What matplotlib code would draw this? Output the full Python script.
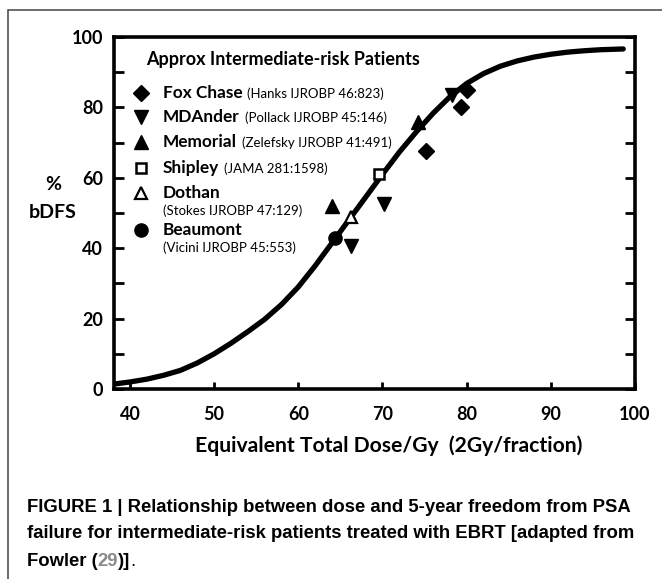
import matplotlib
matplotlib.use("Agg")
import matplotlib.pyplot as plt
from matplotlib.patches import Rectangle

plt.rcParams['font.family'] = ['Lato', 'DejaVu Sans']

# fitted dose-response curve
curve_dose = [38.1, 40, 42, 44, 46, 48, 50, 52, 54, 56, 58, 60, 62, 64, 66, 68, 70,
              72, 74, 76, 78, 80, 82, 84, 86, 88, 90, 92, 94, 96, 98.6]
curve_pct = [1.4, 2.0, 2.8, 3.9, 5.3, 7.4, 10.0, 13.0, 16.3, 19.8, 24.0, 29.0, 35.0,
             41.5, 48.0, 54.5, 61.0, 67.3, 73.0, 78.3, 83.0, 86.8, 89.6, 91.7, 93.2,
             94.3, 95.1, 95.7, 96.1, 96.4, 96.6]

# study results
fox_dose = [75.2, 79.3, 80.0]
fox_pct = [67.5, 80.0, 85.0]
mda_dose = [66.3, 70.2, 78.2]
mda_pct = [40.5, 52.5, 83.5]
mem_dose = [64.0, 74.2]
mem_pct = [52.0, 75.8]
shipley_dose = [69.6]
shipley_pct = [61.0]
dothan_dose = [66.2]
dothan_pct = [49.0]
beaumont_dose = [64.4]
beaumont_pct = [43.0]

legend_names = ["Fox Chase", "MDAnder", "Memorial", "Shipley", "Dothan", "Beaumont"]
legend_cites = ["(Hanks IJROBP 46:823)", "(Pollack IJROBP 45:146)",
                "(Zelefsky IJROBP 41:491)", "(JAMA 281:1598)",
                "(Stokes IJROBP 47:129)", "(Vicini IJROBP 45:553)"]

x_ticks = [40, 50, 60, 70, 80, 90, 100]
y_ticks = [0, 20, 40, 60, 80, 100]
y_minor = [10, 30, 50, 70, 90]

fig = plt.figure(figsize=(6.62, 5.79), dpi=100)
W, H = 662, 579

# thin frame round the figure panel
fig.patches.append(Rectangle((8 / W, -0.05), 1.0, 1 - 10 / H + 0.05, transform=fig.transFigure,
                             fill=False, edgecolor='#444444', linewidth=1.1))

ax = fig.add_axes([114 / W, 1 - 389 / H, (635 - 114) / W, (389 - 37) / H])
ax.set_xlim(38.1, 100)
ax.set_ylim(0, 100)

ax.plot(curve_dose, curve_pct, color='black', linewidth=3.8, solid_capstyle='round', zorder=2)

mk = dict(color='black', linestyle='none', zorder=3)
ax.plot(fox_dose, fox_pct, marker='D', markersize=8.5, **mk)
ax.plot(mda_dose, mda_pct, marker='v', markersize=9.5, **mk)
ax.plot(mem_dose, mem_pct, marker='^', markersize=9.5, **mk)
ax.plot(shipley_dose, shipley_pct, marker='s', markersize=7.5, markerfacecolor='white',
        markeredgewidth=1.8, **mk)
ax.plot(dothan_dose, dothan_pct, marker='^', markersize=9, markerfacecolor='white',
        markeredgewidth=1.6, **mk)
ax.plot(beaumont_dose, beaumont_pct, marker='o', markersize=9.5, **mk)

for sp in ax.spines.values():
    sp.set_linewidth(2.6)

ax.set_xticks(x_ticks)
ax.set_yticks(y_ticks)
ax.set_yticks(y_minor, minor=True)
ax.tick_params(axis='x', direction='in', length=5, width=2, pad=12, labelsize=13)
ax.tick_params(axis='y', which='both', direction='in', length=7, width=2, pad=8,
               labelsize=13, left=True, right=True)
for lab in ax.get_xticklabels() + ax.get_yticklabels():
    lab.set_fontweight('bold')

fig.text(53 / W, 1 - 185 / H, "%", ha='center', va='center', fontsize=14, fontweight='bold')
fig.text(53 / W, 1 - 212 / H, "bDFS", ha='center', va='center', fontsize=14, fontweight='bold')
fig.text(389 / W, 1 - 446 / H, "Equivalent Total Dose/Gy  (2Gy/fraction)", ha='center',
         va='center', fontsize=15.2, fontweight='bold')

# hand made legend in axes fraction
def fx(px):
    return (px - 114) / 521

def fy(py):
    return (389 - py) / 352

ax.text(fx(146), fy(60), "Approx Intermediate-risk Patients", transform=ax.transAxes,
        ha='left', va='center', fontsize=13, fontweight='bold')

leg_rows = [93, 117, 142, 168, 193, 230]
leg_markers = [dict(marker='D', markersize=8.5),
               dict(marker='v', markersize=9.5),
               dict(marker='^', markersize=9.5),
               dict(marker='s', markersize=7.5, markerfacecolor='white', markeredgewidth=1.8),
               dict(marker='^', markersize=9, markerfacecolor='white', markeredgewidth=1.6),
               dict(marker='o', markersize=9.5)]
for i, name in enumerate(legend_names):
    ax.plot([fx(141)], [fy(leg_rows[i])], color='black', transform=ax.transAxes,
            clip_on=False, **leg_markers[i])
    t = ax.text(fx(163), fy(leg_rows[i]), name, transform=ax.transAxes, ha='left',
                va='center', fontsize=12.4, fontweight='bold')
    if name in ("Dothan", "Beaumont"):
        # citation goes on its own line
        ax.text(fx(163), fy(leg_rows[i] + 18), legend_cites[i], transform=ax.transAxes,
                ha='left', va='center', fontsize=9.5)
    else:
        ax.annotate(legend_cites[i], xy=(1, 0), xycoords=t, xytext=(3.5, 0.5),
                    textcoords='offset points', ha='left', va='bottom', fontsize=9.5)

# caption
cap_font = ['Liberation Sans', 'DejaVu Sans']
cap_size = 13.3
fig.text(27 / W, 1 - 507 / H, "FIGURE 1 | Relationship between dose and 5-year freedom from PSA",
         ha='left', va='center', fontsize=cap_size, fontweight='bold', family=cap_font)
fig.text(27 / W, 1 - 534 / H,
         "failure for intermediate-risk patients treated with EBRT [adapted from",
         ha='left', va='center', fontsize=cap_size, fontweight='bold', family=cap_font)
c1 = fig.text(27 / W, 1 - 561 / H, "Fowler (", ha='left', va='center', fontsize=cap_size,
              fontweight='bold', family=cap_font)
c2 = plt.annotate("29", xy=(1, 0), xycoords=c1, xytext=(0, 0), textcoords='offset points',
                  ha='left', va='bottom', fontsize=cap_size, fontweight='bold', family=cap_font,
                  color='#8a8a8a')
c3 = plt.annotate(")]", xy=(1, 0), xycoords=c2, xytext=(0, 0), textcoords='offset points',
                  ha='left', va='bottom', fontsize=cap_size, fontweight='bold', family=cap_font)
plt.annotate(".", xy=(1, 0), xycoords=c3, xytext=(0, 0), textcoords='offset points',
             ha='left', va='bottom', fontsize=cap_size, family=cap_font)

fig.savefig("out.png", dpi=100)
